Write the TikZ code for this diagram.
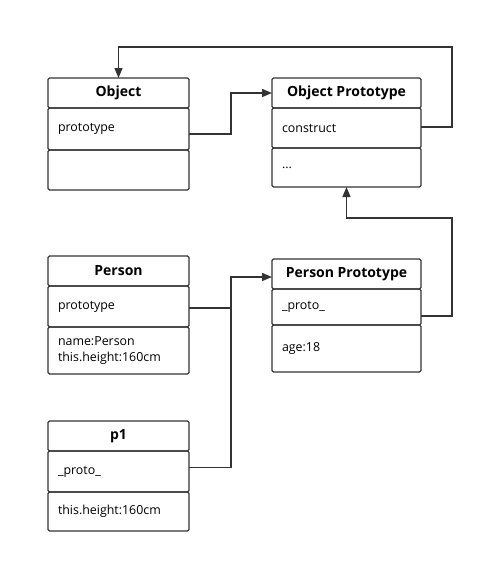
\documentclass[tikz,border=0pt]{standalone}
\usepackage{fontspec}
\setmainfont{Open Sans}
\usetikzlibrary{positioning,arrows.meta}

\begin{document}
\begin{tikzpicture}[
		x=1pt,y=-1pt,
		>={Triangle[length=10pt,width=8pt]},
		conn/.style={->,line width=1.3pt,draw=black!80},
		head/.style={
			draw=black!80,
			line width=1.4pt,
			rounded corners=1.5pt,
			outer sep=0pt,
			inner sep=0pt,
			minimum width=#1,
			minimum height=30pt,
			font=\fontsize{14}{16}\selectfont\bfseries
		},
		row/.style={
			draw=black!80,
			line width=1.4pt,
			rounded corners=1.5pt,
			outer sep=0pt,
			inner xsep=10pt,
			inner ysep=0pt,
			text width=#1-20pt,
			align=left,
			font=\fontsize{12.4}{16}\selectfont
		}
		]
		\useasboundingbox (0,0) rectangle (482,563);
		
		% Object
		\node[head=141pt] (objhead) at (118.5,93) {Object};
		\node[row=141pt, minimum height=42pt, below=0pt of objhead] (objrow) {prototype};
		\node[row=141pt, minimum height=40pt, below=0pt of objrow] (objextra) {};
		
		% Object Prototype
		\node[head=149pt] (ophead) at (346.5,93) {Object Prototype};
		\node[row=149pt, minimum height=40pt, below=0pt of ophead] (oprow) {construct};
		\node[row=149pt, minimum height=39pt, below=0pt of oprow] (opextra) {...};
		
		% Person
		\node[head=141pt] (phead) at (118.5,271) {Person};
		\node[row=141pt, minimum height=41pt, below=0pt of phead] (prow) {prototype};
		\node[row=141pt, minimum height=47pt, below=0pt of prow] (pextra) {name:Person\\this.height:160cm};
		
		% Person Prototype
		\node[head=149pt] (pphead) at (346.5,274) {Person Prototype};
		\node[row=149pt, minimum height=36pt, below=0pt of pphead] (pprow) {\_proto\_};
		\node[row=149pt, minimum height=47pt, below=0pt of pprow] (ppextra) {age:18};
		
		% p1
		\node[head=141pt] (onehead) at (118.5,436) {p1};
		\node[row=141pt, minimum height=41pt, below=0pt of onehead] (onerow) {\_proto\_};
		\node[row=141pt, minimum height=39pt, below=0pt of onerow] (oneextra) {this.height:160cm};
		
		% bends on the right
		\coordinate (topright) at (452,47);
		\coordinate (botright) at (452,218);
		
		% prototype links
		\draw[conn] ([yshift=-5pt]objrow.east) -- ++(42,0) |- (ophead.west);
		\draw[conn,-] ([yshift=-1.5pt]prow.east) -- ++(42.5,0);
		\draw[conn] ([yshift=4pt]onerow.east) -- ++(42,0) |- ([yshift=-3pt]pphead.west);
		
		% constructor and chain
		\draw[conn] ([yshift=1pt]oprow.east) -| (topright) -| (objhead.north);
		\draw[conn] ([yshift=-9pt]pprow.east) -| (botright) -| (opextra.south);
	\end{tikzpicture}
\end{document}
